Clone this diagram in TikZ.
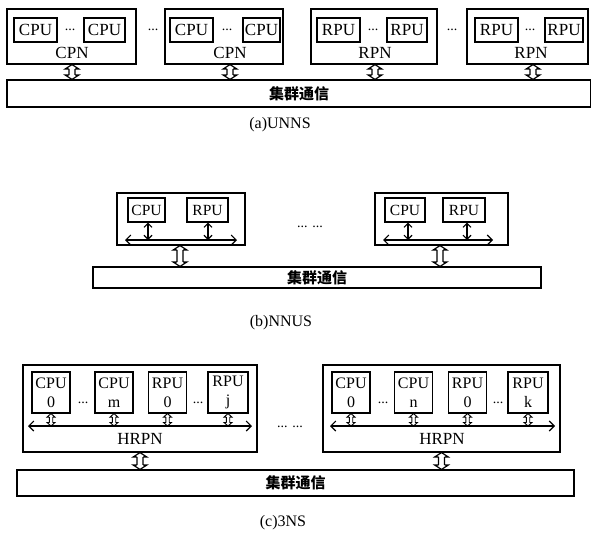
\documentclass[tikz,border=0pt]{standalone}
\usepackage{fontspec}
\setmainfont{Liberation Serif}
\newfontfamily\cjk{Noto Sans CJK SC}
\usetikzlibrary{arrows.meta}
\usetikzlibrary{positioning}

\tikzset{
  nodebox/.style={draw, line width=1.1pt, inner sep=0pt},
  unitbox/.style={draw, line width=1.1pt, inner sep=0pt, font=\fontsize{17}{17}\selectfont},
  unitpair/.style={draw, line width=1.1pt, inner sep=0pt, align=center,
    minimum width=38pt, minimum height=41pt, font=\fontsize{16}{19}\selectfont},
  lbl/.style={inner sep=0pt, font=\fontsize{17}{17}\selectfont},
  dots/.style={inner sep=0pt, font=\fontsize{14}{14}\selectfont},
  commbar/.style={draw, line width=1.1pt, inner sep=0pt, font=\cjk\bfseries\fontsize{15}{15}\selectfont},
  caption/.style={inner sep=0pt, font=\fontsize{16}{16}\selectfont},
  % hollow double-headed arrow: half shaft width, head length
  hollow/.style 2 args={line width=1pt, line join=miter, to path={
    ([xshift=-#1, yshift=-#2]\tikztostart) -- ([xshift=-#1, yshift=#2]\tikztotarget)
    ([xshift=#1, yshift=-#2]\tikztostart) -- ([xshift=#1, yshift=#2]\tikztotarget)
    ([xshift=-#1, yshift=-#2]\tikztostart) -- ([xshift=-2.3*#1, yshift=-#2]\tikztostart)
      -- (\tikztostart) -- ([xshift=2.3*#1, yshift=-#2]\tikztostart) -- ([xshift=#1, yshift=-#2]\tikztostart)
    ([xshift=-#1, yshift=#2]\tikztotarget) -- ([xshift=-2.3*#1, yshift=#2]\tikztotarget)
      -- (\tikztotarget) -- ([xshift=2.3*#1, yshift=#2]\tikztotarget) -- ([xshift=#1, yshift=#2]\tikztotarget)
  }},
  link/.style={hollow={3pt}{4.5pt}, line width=1.2pt},
  tapc/.style={hollow={1.7pt}{3.5pt}, line width=0.9pt},
  tapb/.style={line width=1.1pt, {Straight Barb[length=4pt,width=8pt]}-{Straight Barb[length=4pt,width=8pt]}},
  bus/.style={line width=1.1pt, {Straight Barb[length=5pt,width=10pt]}-{Straight Barb[length=5pt,width=10pt]}},
}

\begin{document}
\begin{tikzpicture}[x=1pt, y=-1pt]
  \useasboundingbox (0,0) rectangle (591,541);

  % (a) UNNS: separate CPU and RPU nodes
  \node[nodebox, minimum width=129pt, minimum height=55pt] (cpn1) at (71.5,36.5) {};
  \node[nodebox, minimum width=118pt, minimum height=55pt] (cpn2) at (224,36.5) {};
  \node[nodebox, minimum width=126pt, minimum height=55pt] (rpn1) at (374,36.5) {};
  \node[nodebox, minimum width=121pt, minimum height=55pt] (rpn2) at (527.5,36.5) {};
  \node[unitbox, minimum width=43pt, minimum height=24pt] (cpn1a) at (35.5,30) {CPU};
  \node[unitbox, minimum width=41pt, minimum height=24pt] (cpn1b) at (104.5,30) {CPU};
  \node[unitbox, minimum width=43pt, minimum height=24pt] (cpn2a) at (191.5,30) {CPU};
  \node[unitbox, minimum width=37pt, minimum height=24pt] (cpn2b) at (261.5,30) {CPU};
  \node[unitbox, minimum width=43pt, minimum height=24pt] (rpn1a) at (338.5,30) {RPU};
  \node[unitbox, minimum width=40pt, minimum height=24pt] (rpn1b) at (407,30) {RPU};
  \node[unitbox, minimum width=43pt, minimum height=24pt] (rpn2a) at (496.5,30) {RPU};
  \node[unitbox, minimum width=38pt, minimum height=24pt] (rpn2b) at (564,30) {RPU};
  \node[dots] (cpn1d) at (70,30) {...};
  \node[dots] (cpn2d) at (227,30) {...};
  \node[dots] (rpn1d) at (373,30) {...};
  \node[dots] (rpn2d) at (530,30) {...};
  \node[dots] (ad1) at (153,30) {...};
  \node[dots] (ad2) at (452,30) {...};
  \node[lbl] (cpn1l) at (72,53) {CPN};
  \node[lbl] (cpn2l) at (230,53) {CPN};
  \node[lbl] (rpn1l) at (375,53) {RPN};
  \node[lbl] (rpn2l) at (531,53) {RPN};
  \node[commbar, minimum width=584pt, minimum height=27pt] (bara) at (299,93.5) {集群通信};
  \draw[link] ([xshift=0.5pt]cpn1.south) to ([xshift=0.5pt]cpn1.south |- bara.north);
  \draw[link] ([xshift=6pt]cpn2.south) to ([xshift=6pt]cpn2.south |- bara.north);
  \draw[link] ([xshift=1pt]rpn1.south) to ([xshift=1pt]rpn1.south |- bara.north);
  \draw[link] ([xshift=5.5pt]rpn2.south) to ([xshift=5.5pt]rpn2.south |- bara.north);
  \node[caption] (capa) at (280,125) {(a)UNNS};

  % (b) NNUS: one CPU and one RPU per node
  \node[nodebox, minimum width=128pt, minimum height=52pt] (nn1) at (181,219) {};
  \node[nodebox, minimum width=133pt, minimum height=52pt] (nn2) at (441.5,219) {};
  \node[unitbox, minimum width=37pt, minimum height=24pt, font=\fontsize{15.5}{15.5}\selectfont] (nn1c) at (146.5,210) {CPU};
  \node[unitbox, minimum width=41pt, minimum height=24pt, font=\fontsize{15.5}{15.5}\selectfont] (nn1r) at (207.5,210) {RPU};
  \node[unitbox, minimum width=40pt, minimum height=24pt, font=\fontsize{15.5}{15.5}\selectfont] (nn2c) at (405,210) {CPU};
  \node[unitbox, minimum width=42pt, minimum height=24pt, font=\fontsize{15.5}{15.5}\selectfont] (nn2r) at (464,210) {RPU};
  \coordinate (nn1w) at (125,240);
  \coordinate (nn1e) at (237,240);
  \coordinate (nn2w) at (383,240);
  \coordinate (nn2e) at (493,240);
  \draw[bus] (nn1w) -- (nn1e);
  \draw[bus] (nn2w) -- (nn2e);
  \draw[tapb] ([xshift=1.5pt]nn1c.south) -- ([xshift=1.5pt]nn1c.south |- nn1w);
  \draw[tapb] ([xshift=0.5pt]nn1r.south) -- ([xshift=0.5pt]nn1r.south |- nn1w);
  \draw[tapb] ([xshift=3pt]nn2c.south) -- ([xshift=3pt]nn2c.south |- nn2w);
  \draw[tapb] ([xshift=3pt]nn2r.south) -- ([xshift=3pt]nn2r.south |- nn2w);
  \node[dots] (bd) at (310,227) {... ...};
  \node[commbar, minimum width=448pt, minimum height=21pt] (barb) at (317,277.5) {集群通信};
  \draw[link] ([xshift=-1pt]nn1.south) to ([xshift=-1pt]nn1.south |- barb.north);
  \draw[link] ([xshift=-1.5pt]nn2.south) to ([xshift=-1.5pt]nn2.south |- barb.north);
  \node[caption] (capb) at (281,323) {(b)NNUS};

  % (c) 3NS: hybrid reconfigurable nodes
  \node[nodebox, minimum width=234pt, minimum height=87pt] (hr1) at (140,408.5) {};
  \node[nodebox, minimum width=237pt, minimum height=87pt] (hr2) at (441.5,408.5) {};
  \node[unitpair] (hr1c0) at (51,392.5) {CPU\\0};
  \node[unitpair] (hr1cm) at (114,392.5) {CPU\\m};
  \node[unitpair] (hr1r0) at (167.5,392.5) {RPU\\0};
  \node[unitpair, minimum width=40pt] (hr1rj) at (228,392.5) {RPU\\j};
  \node[unitpair] (hr2c0) at (351,392.5) {CPU\\0};
  \node[unitpair] (hr2cn) at (413.5,392.5) {CPU\\n};
  \node[unitpair] (hr2r0) at (467.5,392.5) {RPU\\0};
  \node[unitpair, minimum width=40pt] (hr2rk) at (528,392.5) {RPU\\k};
  \node[dots] (hr1d1) at (83,403) {...};
  \node[dots] (hr1d2) at (198,403) {...};
  \node[dots] (hr2d1) at (383,403) {...};
  \node[dots] (hr2d2) at (498,403) {...};
  \coordinate (hr1w) at (28,426);
  \coordinate (hr1e) at (252,426);
  \coordinate (hr2w) at (330,426);
  \coordinate (hr2e) at (555,426);
  \draw[bus] (hr1w) -- (hr1e);
  \draw[bus] (hr2w) -- (hr2e);
  \foreach \u in {hr1c0,hr1cm,hr1r0,hr1rj}
    \draw[tapc] (\u.south) to (\u.south |- hr1w);
  \foreach \u in {hr2c0,hr2cn,hr2r0,hr2rk}
    \draw[tapc] (\u.south) to (\u.south |- hr2w);
  \node[lbl] (hr1l) at (140,439) {HRPN};
  \node[lbl] (hr2l) at (442,439) {HRPN};
  \node[dots] (cd) at (290,427) {... ...};
  \node[commbar, minimum width=557pt, minimum height=26pt] (barc) at (295.5,483) {集群通信};
  \draw[link] (hr1.south) to (hr1.south |- barc.north);
  \draw[link] (hr2.south) to (hr2.south |- barc.north);
  \node[caption] (capc) at (283,523) {(c)3NS};
\end{tikzpicture}
\end{document}
